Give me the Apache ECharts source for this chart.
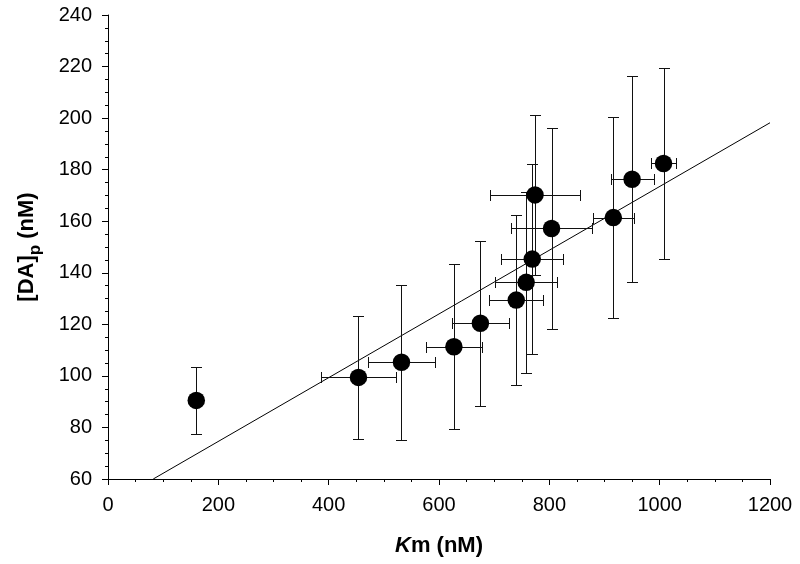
<!DOCTYPE html>
<html>
<head>
<meta charset="utf-8">
<script src="https://cdn.jsdelivr.net/npm/echarts@6/dist/echarts.min.js"></script>
<style>
html,body{margin:0;padding:0;background:#fff;}
#c{width:800px;height:564px;}
</style>
</head>
<body>
<div id="c"></div>
<script>
// Km (nM)
const kmValues = [160, 454, 532, 627, 675, 740, 758, 769, 774, 804, 916, 950, 1007];
// [DA]p (nM)
const daValues = [90.5, 99.4, 105.3, 111.3, 120.4, 129.4, 136.3, 145.3, 170.2, 157.2, 161.4, 176.3, 182.4];
// horizontal error (+/-) on Km
const kmErrors = [0, 68, 60, 51, 51, 49, 56, 56, 82, 73, 37, 39, 23];
// vertical error (+/-) on [DA]p
const daErrors = [13, 24, 30, 32, 32, 33, 35, 37, 31, 39, 39, 40, 37];
// fit line endpoints
const fitX = [82, 1200];
const fitY = [60, 198.2];
// axis ticks
const xTicks = [0, 200, 400, 600, 800, 1000, 1200];
const yTicks = [60, 80, 100, 120, 140, 160, 180, 200, 220, 240];

const FONT = '"Liberation Sans", Arial, sans-serif';
const chart = echarts.init(document.getElementById('c'));

const errData = kmValues.map((x, i) => [x, daValues[i], kmErrors[i], daErrors[i]]);
const ptData = kmValues.map((x, i) => [x, daValues[i]]);
const lineData = fitX.map((x, i) => [x, fitY[i]]);

const CAP = 5.5;
function renderErr(params, api) {
  const x = api.value(0), y = api.value(1), ex = api.value(2), ey = api.value(3);
  const c = api.coord([x, y]);
  const children = [];
  const style = { stroke: '#111', lineWidth: 1 };
  if (ey > 0) {
    const top = api.coord([x, y + ey]);
    const bot = api.coord([x, y - ey]);
    const px = Math.round(c[0]) + 0.5;
    const ty = Math.round(top[1]) + 0.5, by = Math.round(bot[1]) + 0.5;
    children.push({ type: 'line', shape: { x1: px, y1: ty, x2: px, y2: by }, style });
    children.push({ type: 'line', shape: { x1: px - CAP, y1: ty, x2: px + CAP, y2: ty }, style });
    children.push({ type: 'line', shape: { x1: px - CAP, y1: by, x2: px + CAP, y2: by }, style });
  }
  if (ex > 0) {
    const l = api.coord([x - ex, y]);
    const r = api.coord([x + ex, y]);
    const py = Math.round(c[1]) + 0.5;
    const lx = Math.round(l[0]) + 0.5, rx = Math.round(r[0]) + 0.5;
    children.push({ type: 'line', shape: { x1: lx, y1: py, x2: rx, y2: py }, style });
    children.push({ type: 'line', shape: { x1: lx, y1: py - CAP, x2: lx, y2: py + CAP }, style });
    children.push({ type: 'line', shape: { x1: rx, y1: py - CAP, x2: rx, y2: py + CAP }, style });
  }
  return { type: 'group', children };
}

chart.setOption({
  animation: false,
  backgroundColor: '#fff',
  grid: { left: 108, right: 30, top: 15, bottom: 85, containLabel: false },
  xAxis: {
    type: 'value',
    min: xTicks[0], max: xTicks[xTicks.length - 1], interval: 200,
    splitLine: { show: false },
    axisLine: { lineStyle: { color: '#000', width: 1 } },
    axisTick: { inside: false, length: 6, lineStyle: { color: '#000' } },
    minorTick: { show: true, splitNumber: 4, length: 3, lineStyle: { color: '#000' } },
    axisLabel: { color: '#000', fontSize: 20, fontFamily: FONT, margin: 16, formatter: v => String(v) },
    name: '{i|K}{b|m (nM)}',
    nameLocation: 'middle',
    nameGap: 56,
    nameTextStyle: {
      rich: {
        i: { fontSize: 22, fontWeight: 'bold', fontStyle: 'italic', fontFamily: FONT, color: '#000' },
        b: { fontSize: 22, fontWeight: 'bold', fontFamily: FONT, color: '#000' }
      }
    }
  },
  yAxis: {
    type: 'value',
    min: yTicks[0], max: yTicks[yTicks.length - 1], interval: 20,
    splitLine: { show: false },
    axisLine: { show: true, lineStyle: { color: '#000', width: 1 } },
    axisTick: { show: true, inside: false, length: 6, lineStyle: { color: '#000' } },
    minorTick: { show: true, splitNumber: 4, length: 3, lineStyle: { color: '#000' } },
    axisLabel: { color: '#000', fontSize: 20, fontFamily: FONT, margin: 16, formatter: v => String(v) },
    name: '{b|[DA]}{s|p}{b| (nM)}',
    nameLocation: 'middle',
    nameGap: 64,
    nameRotate: 90,
    nameTextStyle: {
      rich: {
        b: { fontSize: 22, fontWeight: 'bold', fontFamily: FONT, color: '#000', lineHeight: 28, verticalAlign: 'top' },
        s: { fontSize: 17, fontWeight: 'bold', fontFamily: FONT, color: '#000', lineHeight: 17, verticalAlign: 'bottom' }
      }
    }
  },
  series: [
    {
      type: 'line',
      data: lineData,
      symbol: 'none',
      lineStyle: { color: '#000', width: 1 },
      z: 1,
      silent: true
    },
    {
      type: 'custom',
      data: errData,
      renderItem: renderErr,
      encode: { x: 0, y: 1 },
      z: 2,
      silent: true
    },
    {
      type: 'scatter',
      data: ptData,
      symbol: 'circle',
      symbolSize: 17.5,
      itemStyle: { color: '#000', opacity: 1 },
      z: 3
    }
  ]
});
</script>
</body>
</html>
